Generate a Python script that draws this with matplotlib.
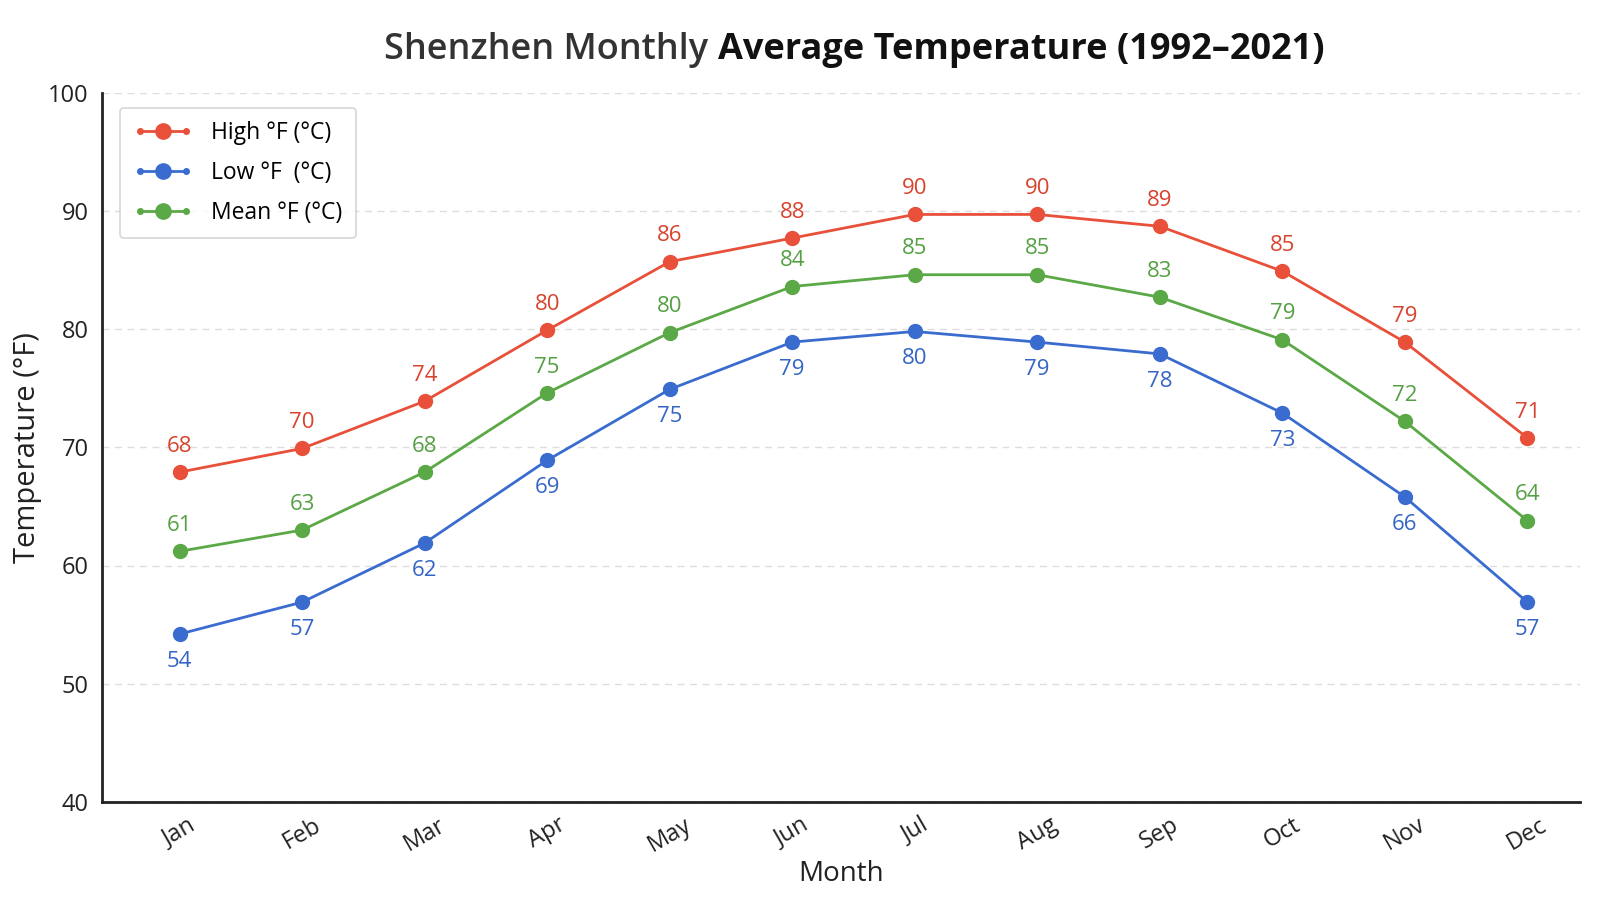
import matplotlib
matplotlib.use("Agg")
import matplotlib.pyplot as plt
from matplotlib.lines import Line2D
from matplotlib.legend_handler import HandlerLine2D, HandlerTuple

plt.rcParams["font.family"] = ["Open Sans", "DejaVu Sans"]

MONTHS = ["Jan", "Feb", "Mar", "Apr", "May", "Jun",
          "Jul", "Aug", "Sep", "Oct", "Nov", "Dec"]

high_f = [67.9, 69.9, 73.9, 79.9, 85.7, 87.7, 89.7, 89.7, 88.7, 84.9, 78.9, 70.8]
low_f = [54.2, 56.9, 61.9, 68.9, 74.9, 78.9, 79.8, 78.9, 77.9, 72.9, 65.8, 56.9]
mean_f = [61.2, 63.0, 67.9, 74.6, 79.7, 83.6, 84.6, 84.6, 82.7, 79.1, 72.2, 63.8]

SERIES = [
    ("High °F (°C)", high_f, "#e8503a", "#d8432e", "above"),
    ("Low °F  (°C)", low_f, "#3a6ccf", "#3565c4", "below"),
    ("Mean °F (°C)", mean_f, "#5ba846", "#55a043", "above"),
]

fig = plt.figure(figsize=(16, 9), dpi=100)
fig.patch.set_facecolor("white")
ax = fig.add_axes([0.064, 0.109, 0.9235, 0.788])

x = list(range(len(MONTHS)))
handles = []
handler_map = {}
for label, vals, color, tcolor, pos in SERIES:
    ax.plot(x, vals, color=color, lw=2, marker="o", ms=10, zorder=3)
    for xi, v in zip(x, vals):
        if pos == "above":
            ax.annotate(f"{round(v)}", (xi, v), xytext=(0, 11), textcoords="offset points",
                        ha="center", va="bottom", fontsize=16, color=tcolor)
        else:
            ax.annotate(f"{round(v)}", (xi, v), xytext=(0, -12), textcoords="offset points",
                        ha="center", va="top", fontsize=16, color=tcolor)
    small = Line2D([], [], color=color, lw=2, marker="o", ms=4)
    big = Line2D([], [], color=color, ls="none", marker="o", ms=11)
    handler_map[big] = HandlerLine2D(numpoints=1)
    handles.append((small, big))

handler_map[tuple] = HandlerTuple(ndivide=1)
leg = ax.legend(handles, [s[0] for s in SERIES], handler_map=handler_map, numpoints=2,
                loc="upper left", bbox_to_anchor=(0.004, 0.995), fontsize=16.5,
                frameon=True, fancybox=True, edgecolor="#cccccc", handlelength=2.6,
                labelspacing=0.68, borderpad=0.6, handletextpad=0.8)
leg.get_frame().set_linewidth(1.2)

ax.set_xlim(-0.63, 11.43)
ax.set_ylim(40, 100)
ax.set_yticks([40, 50, 60, 70, 80, 90, 100])
ax.set_xticks(x)
ax.set_xticklabels(MONTHS, rotation=30)
ax.tick_params(axis="both", length=0, labelsize=17, colors="#222222")
ax.tick_params(axis="x", pad=8)
ax.tick_params(axis="y", pad=10)
ax.grid(axis="y", linestyle=(0, (5, 4)), color="#dddddd", lw=1)
ax.set_axisbelow(True)
for side in ["top", "right"]:
    ax.spines[side].set_visible(False)
for side in ["left", "bottom"]:
    ax.spines[side].set_linewidth(2)
    ax.spines[side].set_color("#222222")

ax.set_xlabel("Month", fontsize=20, color="#222222", labelpad=2)
ax.set_ylabel("Temperature (°F)", fontsize=21, color="#222222", labelpad=4)

# two-tone title
fig.canvas.draw()
renderer = fig.canvas.get_renderer()
t1 = fig.text(0, 0.934, "Shenzhen Monthly ", fontsize=26, fontweight="semibold",
              color="#333333", va="baseline")
t2 = fig.text(0, 0.934, "Average Temperature (1992–2021)", fontsize=26,
              fontweight="bold", color="#111111", va="baseline")
w1 = t1.get_window_extent(renderer).width / fig.bbox.width
w2 = t2.get_window_extent(renderer).width / fig.bbox.width
start = 0.534 - (w1 + w2) / 2
t1.set_x(start)
t2.set_x(start + w1)

fig.savefig("out.png", dpi=100, facecolor="white")
